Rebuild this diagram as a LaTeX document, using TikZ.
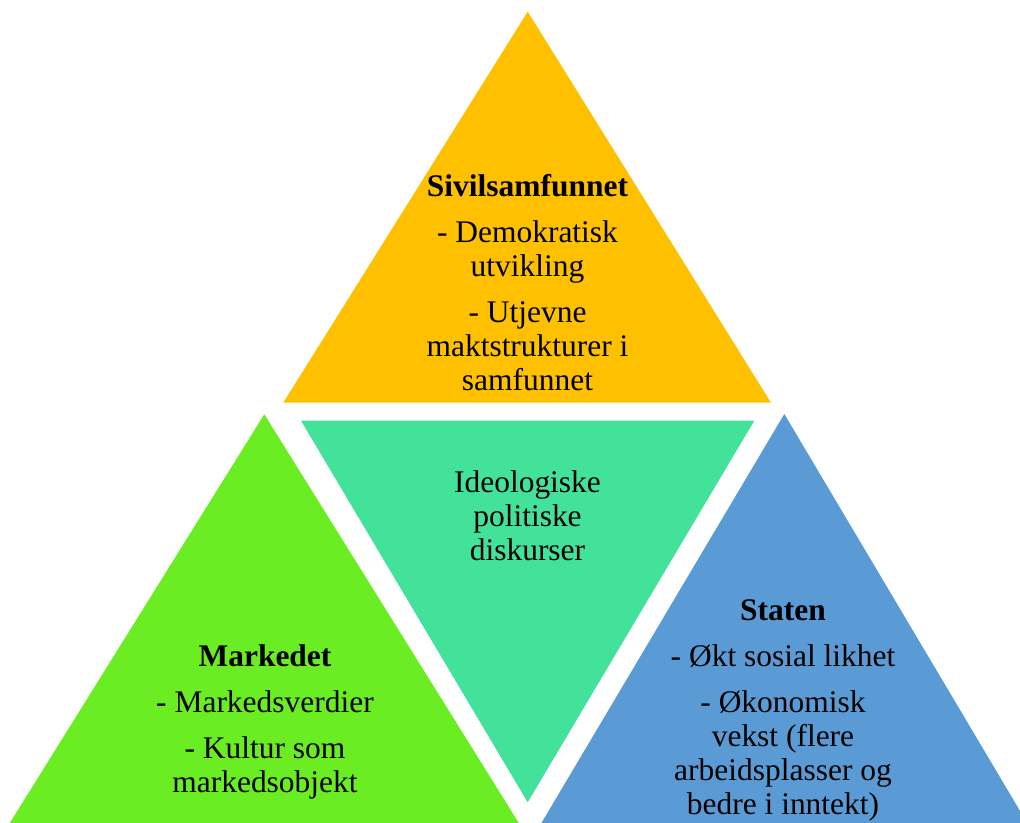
\documentclass[tikz,border=0pt]{standalone}
\usepackage{fontspec}
\setmainfont{LiberationSerif}[Extension=.ttf,UprightFont=*-Regular,BoldFont=*-Bold,ItalicFont=*-Italic,BoldItalicFont=*-BoldItalic]
\definecolor{sivil}{HTML}{FFC000}
\definecolor{ideo}{HTML}{43E29B}
\definecolor{marked}{HTML}{6AEE23}
\definecolor{stat}{HTML}{5B9BD5}
\tikzset{
  lbl/.style={align=center,inner sep=0pt,font=\fontsize{23.6}{25.5}\selectfont}
}
\begin{document}
\begin{tikzpicture}[x=0.75pt,y=-0.75pt]
        \useasboundingbox (0,0) rectangle (1020,823);
        \begin{scope}
        \clip (0,0) rectangle (1020,823);
        \fill[sivil] (527.7,11.7) -- (771,402.7) -- (283.3,402.7) -- cycle;
        \fill[ideo] (301,420.7) -- (754.3,420.7) -- (527.7,802.3) -- cycle;
        \fill[marked] (264.3,414.3) -- (518.8,823) -- (9.8,823) -- cycle;
        \fill[stat] (784.3,414) -- (1027.2,823) -- (541.4,823) -- cycle;
        \end{scope}
        \node[lbl] (sivil) at (527.5,283) {\textbf{Sivilsamfunnet}\\[9pt]- Demokratisk\\utvikling\\[9pt]- Utjevne\\maktstrukturer i\\samfunnet};
        \node[lbl] (ideo) at (527.5,516) {Ideologiske\\politiske\\diskurser};
        \node[lbl] (marked) at (265,722) {\textbf{Markedet}\\[9pt]- Markedsverdier\\[9pt]- Kultur som\\markedsobjekt};
        \node[lbl] (stat) at (783,710) {\textbf{Staten}\\[9pt]- Økt sosial likhet\\[9pt]- Økonomisk\\vekst (flere\\arbeidsplasser og\\bedre i inntekt)};
    \end{tikzpicture}
\end{document}
